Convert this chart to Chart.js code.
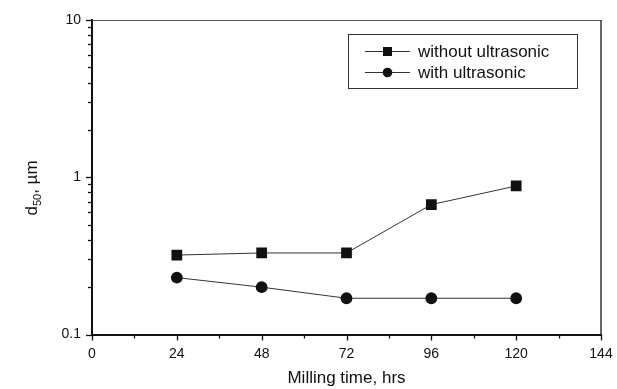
<!DOCTYPE html>
<html>
<head>
<meta charset="utf-8">
<title>d50 vs milling time</title>
<script src="https://cdn.jsdelivr.net/npm/chart.js@4/dist/chart.umd.min.js"></script>
<style>
  html, body { margin: 0; padding: 0; background: #fff; }
  canvas { display: block; }
</style>
</head>
<body>
<canvas id="chart" width="617" height="389"></canvas>
<script>
const millingHours = [24, 48, 72, 96, 120];
const withoutUltrasonic = [0.32, 0.33, 0.33, 0.67, 0.88];
const withUltrasonic = [0.23, 0.20, 0.17, 0.17, 0.17];
const xTickStep = 24;
const xMinorStep = 12;
const yTickLabels = [0.1, 1, 10];

const FONT = "'Liberation Sans', Arial, sans-serif";
const INK = "#111";

function toPoints(ys) {
  return millingHours.map((x, i) => ({ x, y: ys[i] }));
}

// frame, minor/major ticks, axis titles and the boxed legend
const decorations = {
  id: "decorations",
  afterDraw(chart) {
    const { ctx, chartArea: a, scales } = chart;
    const xs = scales.x, ys = scales.y;
    ctx.save();

    // top and right frame
    ctx.strokeStyle = "#555";
    ctx.lineWidth = 1;
    ctx.beginPath();
    ctx.moveTo(a.left, a.top + 0.5);
    ctx.lineTo(a.right, a.top + 0.5);
    ctx.stroke();
    ctx.strokeStyle = "#333";
    ctx.lineWidth = 1.5;
    ctx.beginPath();
    ctx.moveTo(a.right, a.top);
    ctx.lineTo(a.right, a.bottom);
    ctx.stroke();

    // x ticks (down)
    ctx.strokeStyle = INK;
    ctx.lineWidth = 1.3;
    for (let v = xs.min; v <= xs.max; v += xMinorStep) {
      const px = Math.round(xs.getPixelForValue(v)) + 0.5;
      const len = v % xTickStep === 0 ? 6 : 4;
      ctx.beginPath();
      ctx.moveTo(px, a.bottom);
      ctx.lineTo(px, a.bottom + len);
      ctx.stroke();
    }

    // y ticks (left), decades and 2..9 within each
    for (let d = ys.min; d < ys.max * 1.0001; d *= 10) {
      for (let m = 1; m <= 9; m++) {
        const v = d * m;
        if (v > ys.max * 1.0001) break;
        const py = Math.round(ys.getPixelForValue(v)) + 0.5;
        const len = m === 1 ? 6 : 4;
        ctx.beginPath();
        ctx.moveTo(a.left, py);
        ctx.lineTo(a.left - len, py);
        ctx.stroke();
      }
    }

    // axis titles
    ctx.fillStyle = INK;
    ctx.font = "17px " + FONT;
    ctx.textAlign = "center";
    ctx.textBaseline = "middle";
    ctx.fillText("Milling time, hrs", (a.left + a.right) / 2, 378);

    ctx.save();
    ctx.translate(31, 188);
    ctx.rotate(-Math.PI / 2);
    ctx.textAlign = "left";
    ctx.textBaseline = "alphabetic";
    const parts = [
      { t: "d", f: "17px " + FONT, dy: 0 },
      { t: "50", f: "11px " + FONT, dy: 4 },
      { t: ", \u00b5m", f: "17px " + FONT, dy: 0 }
    ];
    let total = 0;
    parts.forEach(p => { ctx.font = p.f; p.w = ctx.measureText(p.t).width; total += p.w; });
    let cx = -total / 2;
    parts.forEach(p => {
      ctx.font = p.f;
      ctx.fillText(p.t, cx, 6 + p.dy);
      cx += p.w;
    });
    ctx.restore();

    // legend
    const box = { l: 348.5, t: 34.5, r: 577.5, b: 88.5 };
    ctx.fillStyle = "#fff";
    ctx.fillRect(box.l, box.t, box.r - box.l, box.b - box.t);
    ctx.strokeStyle = "#333";
    ctx.lineWidth = 1;
    ctx.strokeRect(box.l, box.t, box.r - box.l, box.b - box.t);

    const rowsY = [51, 72];
    chart.data.datasets.forEach((ds, i) => {
      const y = rowsY[i];
      ctx.strokeStyle = ds.borderColor;
      ctx.lineWidth = 1;
      ctx.beginPath();
      ctx.moveTo(365, y + 0.5);
      ctx.lineTo(410, y + 0.5);
      ctx.stroke();
      ctx.fillStyle = INK;
      if (ds.pointStyle === "rect") {
        ctx.fillRect(383, y - 4, 9, 9);
      } else {
        ctx.beginPath();
        ctx.arc(387.5, y + 0.5, 4.8, 0, Math.PI * 2);
        ctx.fill();
      }
      ctx.font = "17px " + FONT;
      ctx.textAlign = "left";
      ctx.textBaseline = "middle";
      ctx.fillText(ds.label, 418, y + 1);
    });

    ctx.restore();
  }
};

new Chart(document.getElementById("chart"), {
  type: "line",
  data: {
    datasets: [
      {
        label: "without ultrasonic",
        data: toPoints(withoutUltrasonic),
        borderColor: "#333",
        borderWidth: 1,
        pointStyle: "rect",
        pointRadius: 7.6,
        pointBackgroundColor: INK,
        pointBorderColor: INK,
        pointBorderWidth: 0,
        tension: 0
      },
      {
        label: "with ultrasonic",
        data: toPoints(withUltrasonic),
        borderColor: "#333",
        borderWidth: 1,
        pointStyle: "circle",
        pointRadius: 5.9,
        pointBackgroundColor: INK,
        pointBorderColor: INK,
        pointBorderWidth: 0,
        tension: 0
      }
    ]
  },
  options: {
    responsive: false,
    animation: false,
    layout: { padding: { top: 20, right: 16, left: 0, bottom: 0 } },
    plugins: {
      legend: { display: false },
      tooltip: { enabled: false }
    },
    scales: {
      x: {
        type: "linear",
        min: 0,
        max: 144,
        grid: { display: false, drawTicks: false },
        border: { display: true, color: INK, width: 2 },
        ticks: {
          stepSize: xTickStep,
          padding: 11,
          color: INK,
          font: { family: FONT, size: 14 }
        },
        afterFit: s => { s.height = 54.5; s.paddingRight = 0; s.paddingLeft = 0; }
      },
      y: {
        type: "logarithmic",
        min: 0.1,
        max: 10,
        grid: { display: false, drawTicks: false },
        border: { display: true, color: INK, width: 2 },
        ticks: {
          autoSkip: false,
          padding: 11,
          color: INK,
          font: { family: FONT, size: 14 },
          callback: v => yTickLabels.some(t => Math.abs(t - v) < 1e-9) ? String(v) : ""
        },
        afterFit: s => { s.width = 92; s.paddingTop = 0; s.paddingBottom = 0; }
      }
    }
  },
  plugins: [decorations]
});
</script>
</body>
</html>
